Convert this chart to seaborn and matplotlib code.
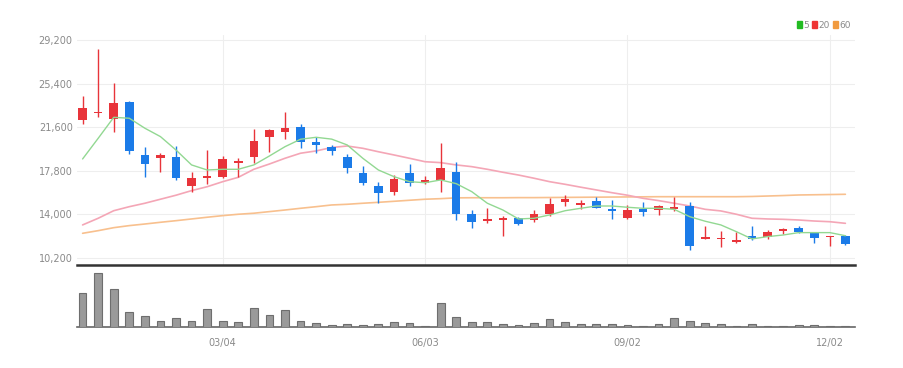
import matplotlib
matplotlib.use('Agg')
import matplotlib.pyplot as plt
import matplotlib.patches as mpatches
import numpy as np
import pandas as pd
import seaborn as sns

# weekly candles
dates = pd.date_range('2018-12-31', periods=50, freq='W-MON')
open_ = [22230, 22800, 22320, 23800, 19180, 18940, 18980, 16500, 17150, 17290,
         18450, 18980, 20770, 21210, 21590, 20280, 19900, 19030, 17580, 16500,
         15930, 17580, 16760, 17000, 17720, 14010, 13430, 13510, 13710, 13510,
         14060, 15110, 14820, 15200, 14470, 13710, 14440, 14380, 14470, 14730,
         11880, 11830, 11590, 12140, 12060, 12550, 12840, 12410, 12030, 12140]
close = [23300, 22950, 23680, 19550, 18390, 19180, 17150, 17200, 17370, 18830,
         18690, 20400, 21360, 21530, 20340, 20080, 19550, 18020, 16760, 15840,
         17060, 16710, 17000, 18070, 14030, 13310, 13590, 13660, 13140, 14010,
         14880, 15340, 15020, 14590, 14270, 14380, 14210, 14730, 14620, 11270,
         12000, 11970, 11770, 11830, 12490, 12700, 12440, 11920, 12140, 11420]
high = [24320, 28400, 25430, 23900, 19850, 19330, 19960, 17720, 19650, 19120,
        18940, 21420, 21450, 22950, 21880, 20770, 20050, 19240, 18250, 16800,
        17430, 18390, 17350, 20250, 18550, 14380, 14530, 13860, 13800, 14380,
        15460, 15690, 15260, 15490, 15260, 14820, 15110, 14820, 15490, 15110,
        12990, 12550, 12490, 12990, 12640, 12840, 12990, 12490, 12140, 12200]
low = [21880, 22500, 21200, 19240, 17290, 17720, 17000, 15980, 16650, 17150,
       17290, 18510, 19460, 20570, 19760, 19330, 19180, 17640, 16560, 15020,
       15690, 16500, 16650, 15980, 13470, 12790, 13220, 12140, 13050, 13360,
       13860, 14730, 14440, 14530, 13570, 13600, 13860, 13950, 14320, 10900,
       11830, 11180, 11530, 11770, 11830, 12270, 12350, 11480, 11250, 11330]
volume = [340, 547, 380, 153, 113, 57, 90, 60, 180, 63,
          47, 190, 123, 173, 60, 40, 20, 27, 20, 27,
          47, 43, 7, 240, 97, 47, 47, 27, 20, 43,
          80, 50, 27, 27, 27, 20, 13, 27, 93, 60,
          40, 27, 13, 27, 13, 13, 17, 17, 7, 7]  # thousand shares
ma5 = [18830, 20630, 22460, 22380, 21510, 20780, 19610, 18310, 17870, 17930,
       17930, 18310, 19090, 19900, 20550, 20720, 20560, 20050, 18890, 17870,
       17290, 16850, 16760, 17000, 16680, 15980, 14970, 14380, 13600, 13660,
       13950, 14320, 14530, 14730, 14730, 14620, 14530, 14530, 14440, 13800,
       13400, 13080, 12490, 11860, 12060, 12200, 12410, 12410, 12410, 12140]
ma20 = [13080, 13660, 14320, 14670, 14970, 15320, 15670, 16070, 16410, 16850,
        17230, 17930, 18390, 18890, 19330, 19530, 19830, 19960, 19760, 19460,
        19180, 18890, 18590, 18510, 18310, 18160, 17930, 17670, 17430, 17150,
        16850, 16620, 16370, 16130, 15890, 15670, 15400, 15200, 14970, 14730,
        14440, 14300, 14010, 13660, 13600, 13570, 13510, 13420, 13360, 13220]
ma60 = [12350, 12580, 12840, 13020, 13160, 13310, 13450, 13600, 13750, 13890,
        14010, 14100, 14240, 14380, 14530, 14670, 14820, 14880, 14970, 15050,
        15140, 15230, 15320, 15370, 15440, 15450, 15450, 15450, 15460, 15460,
        15470, 15480, 15490, 15500, 15510, 15520, 15530, 15540, 15540, 15540,
        15540, 15540, 15540, 15560, 15600, 15640, 15690, 15710, 15730, 15750]
y_ticks = [10200, 14000, 17800, 21600, 25400, 29200]
x_tick_labels = ['03/04', '06/03', '09/02', '12/02']

df = pd.DataFrame({'date': dates, 'open': open_, 'close': close, 'high': high,
                   'low': low, 'volume': volume, 'ma5': ma5, 'ma20': ma20,
                   'ma60': ma60})
df['idx'] = np.arange(len(df))
df['label'] = df['date'].dt.strftime('%m/%d')
tick_idx = df.loc[df['label'].isin(x_tick_labels), 'idx'].tolist()

sns.set_theme(style='white')
plt.rcParams['font.family'] = ['Liberation Sans Narrow', 'DejaVu Sans']

UP, DOWN = '#e8343a', '#1b7be8'
fig = plt.figure(figsize=(9.04, 3.68), dpi=100)
ax = fig.add_axes([0.085, 0.280, 0.861, 0.625])
ax_v = fig.add_axes([0.085, 0.111, 0.861, 0.161], sharex=ax)

# candles
colors = np.where(df['close'] >= df['open'], UP, DOWN)
ax.vlines(df['idx'], df['low'], df['high'], colors=colors, linewidth=1, zorder=3)
body_lo = np.minimum(df['open'], df['close'])
body_h = np.maximum(np.abs(df['close'] - df['open']), 60)
ax.bar(df['idx'], body_h, bottom=body_lo, width=0.55, color=colors,
       linewidth=0, zorder=4)

# moving averages
sns.lineplot(data=df, x='idx', y='ma60', ax=ax, color='#f8c08e', linewidth=1.2, zorder=2)
sns.lineplot(data=df, x='idx', y='ma20', ax=ax, color='#f4a6b6', linewidth=1.2, zorder=2)
sns.lineplot(data=df, x='idx', y='ma5', ax=ax, color='#92d892', linewidth=1.0, zorder=5)

ax.set_xlim(-0.37, 49.63)
ax.set_ylim(9590, 29640)
ax.set_yticks(y_ticks)
ax.set_yticklabels([f'{v:,}' for v in y_ticks], fontsize=7, color='#8a8a8a')
ax.tick_params(axis='y', length=0, pad=3)
ax.tick_params(axis='x', length=0, labelbottom=False)
ax.set_xticks(tick_idx)
ax.grid(True, color='#eeeeee', linewidth=0.8, zorder=0)
ax.set_xlabel('')
ax.set_ylabel('')
for s in ['top', 'right', 'left']:
    ax.spines[s].set_visible(False)
ax.spines['bottom'].set_color('#333333')
ax.spines['bottom'].set_linewidth(1.8)

# volume
sns.barplot(data=df, x='idx', y='volume', ax=ax_v, native_scale=True,
            color='#9a9a9a', edgecolor='#6e6e6e', linewidth=0.8, width=0.5,
            saturation=1, zorder=3)
ax_v.set_ylim(0, 595)
ax_v.set_yticks([])
ax_v.set_xticks(tick_idx)
ax_v.set_xticklabels(x_tick_labels, fontsize=7, color='#8a8a8a')
ax_v.tick_params(axis='x', length=3, width=0.8, color='#555555', pad=6, direction='inout')
ax_v.set_xlabel('')
ax_v.set_ylabel('')
for s in ['top', 'right', 'left']:
    ax_v.spines[s].set_visible(False)
ax_v.spines['bottom'].set_color('#666666')
ax_v.spines['bottom'].set_linewidth(1.2)
ax_v.set_xlim(-0.37, 49.63)

# legend
handles = [mpatches.Patch(color='#22bb22', label='5'),
           mpatches.Patch(color='#ee3333', label='20'),
           mpatches.Patch(color='#f19a3e', label='60')]
fig.legend(handles=handles, loc='center right', bbox_to_anchor=(0.945, 0.932),
           ncol=3, frameon=False, fontsize=6.5, handlelength=0.5,
           handleheight=0.9, handletextpad=0.15, columnspacing=0.4,
           labelcolor='#8a8a8a', borderaxespad=0)

fig.savefig('out.png', dpi=100)
